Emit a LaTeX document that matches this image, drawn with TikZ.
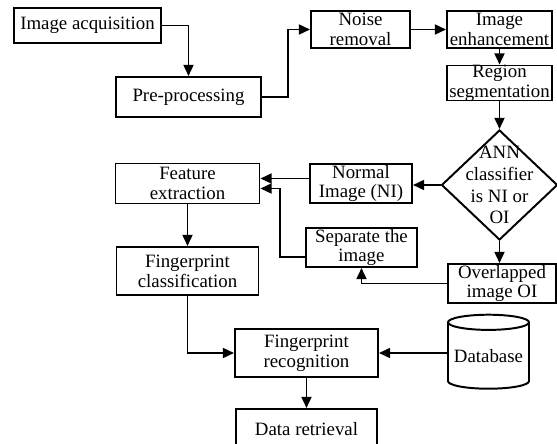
\documentclass[tikz,border=0pt]{standalone}
\usepackage{fontspec}
\setmainfont{Liberation Serif}
\usepackage{tikz}
\usetikzlibrary{arrows.meta,shapes.geometric,positioning}
\tikzset{
  stage/.style={
    draw,
    rectangle,
    line width=1.4pt,
    inner xsep=0pt,
    inner ysep=-1pt,
    align=center,
    font=\fontsize{13.4}{14.2}\selectfont
  },
  decision/.style={
    draw,
    diamond,
    line width=1.4pt,
    inner sep=0pt,
    minimum width=29mm,
    minimum height=27.5mm
  },
  store/.style={
    draw,
    cylinder,
    shape border rotate=90,
    aspect=0.22,
    line width=1.4pt,
    inner sep=0pt,
    font=\fontsize{13.4}{14.2}\selectfont
  },
  flow/.style={
    draw,
    line width=1.4pt,
    -{Triangle[length=2.8mm,width=2.5mm]}
  }
}

\begin{document}
\begin{tikzpicture}[x=0.25mm,y=-0.25mm]
  \useasboundingbox (0,0) rectangle (557,444);

  \node[stage,minimum width=36.75mm,minimum height=8.75mm] (acq) at (87.5,25.5) {Image acquisition};
  \node[stage,minimum width=36.25mm,minimum height=10mm] (pre) at (188.5,97) {Pre-processing};
  \node[stage,minimum width=24.75mm,minimum height=9.25mm] (noise) at (360.5,29.5) {Noise\\removal};
  \node[stage,minimum width=26.25mm,minimum height=9.25mm] (enh) at (499.5,29.5) {Image\\enhancement};
  \node[stage,minimum width=26.25mm,minimum height=8.75mm] (seg) at (499.5,83) {Region\\segmentation};
  \node[decision,label={[align=center,font=\fontsize{13.4}{15.5}\selectfont]center:ANN\\classifier\\is NI or\\OI}] (ann) at (499.5,185) {};

  \node[stage,minimum width=25.5mm,minimum height=9.75mm] (ni) at (361,183.5) {Normal\\Image (NI)};
  \node[stage,minimum width=36mm,minimum height=10mm] (fe) at (187.5,183.5) {Feature\\extraction};
  \node[stage,minimum width=27.75mm,minimum height=9.75mm] (sep) at (361.5,247.5) {Separate the\\image};
  \node[stage,minimum width=27mm,minimum height=9.75mm] (oi) at (502,283.5) {Overlapped\\image OI};
  \node[stage,minimum width=35.5mm,minimum height=12mm] (fc) at (187.5,271) {Fingerprint\\classification};

  \node[stage,minimum width=35.75mm,minimum height=12mm] (fr) at (306.5,353) {Fingerprint\\recognition};
  \node[store,minimum width=20.25mm,minimum height=18.5mm] (db) at (488.5,356) {Database};
  \node[stage,minimum width=35.25mm,minimum height=10mm] (dr) at (306.5,429) {Data retrieval};

  \draw[flow] (acq.east) -| (pre.north);
  \draw[flow] (pre.east) -- ++(26,0) |- (noise.west);
  \draw[flow] (noise) -- (enh);
  \draw[flow] (enh) -- (seg);
  \draw[flow] (seg) -- (ann);
  \draw[flow] (ann.west) -- (ann.west -| ni.east);
  \draw[flow] (ann.south) -- (ann.south |- oi.north);
  \draw[flow] ([yshift=1.25mm]ni.west) -- ([yshift=1.25mm]fe.east);
  \draw[flow] ([yshift=-2.4mm]sep.west) -- ++(-25,0) |- ([yshift=-1.25mm]fe.east);
  \draw[flow] (oi.west) -| (sep.south);
  \draw[flow] (fe) -- (fc);
  \draw[flow] (fc.south) |- (fr.west);
  \draw[flow] (db.west |- fr.east) -- (fr.east);
  \draw[flow] (fr) -- (dr);
\end{tikzpicture}
\end{document}
